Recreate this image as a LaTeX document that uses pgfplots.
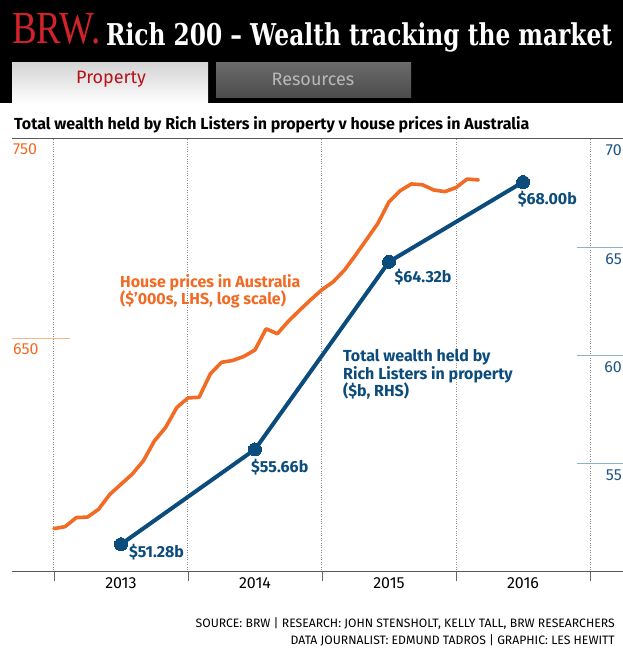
\documentclass[border=0pt]{standalone}
\usepackage{graphicx}
\usepackage{fontspec}
\setmainfont{Fira Sans}
\newfontfamily\titlefont{DejaVu Serif}
\newfontfamily\logofont{Liberation Serif}
\usepackage{pgfplots}
\pgfplotsset{compat=1.18}
\definecolor{hpOrange}{HTML}{F26B24}
\definecolor{hpOrangeLight}{HTML}{F8B58E}
\definecolor{wBlue}{HTML}{0B4C7C}
\definecolor{wBlueText}{HTML}{1D5586}
\definecolor{wBlueLight}{HTML}{8FAFC7}
\definecolor{brwRed}{HTML}{D2232A}
\definecolor{tabRed}{HTML}{B5121B}
\begin{document}
\begin{tikzpicture}[x=1pt,y=1pt]
\path[use as bounding box] (0,0) rectangle (623,-649);
\fill[white] (0,0) rectangle (623,-649);
\fill[black] (0,0) rectangle (623,-103);
% tabs
\shade[top color=black!17, bottom color=white] (12,-62) rectangle (208,-104);
\shade[top color=black!58, bottom color=black!70] (216,-62) rectangle (411,-97);
\node[font=\fontsize{18}{20}\selectfont, text=tabRed] at (111,-79) {Property};
\node[font=\fontsize{18}{20}\selectfont, text=black!28] at (313,-79) {Resources};
% title
\node[anchor=base west, inner sep=0, text=brwRed] at (12,-43) {\resizebox{88pt}{\height}{\logofont\fontsize{46}{46}\selectfont BRW.}};
\node[anchor=base west, inner sep=0, text=white] at (106,-45) {\resizebox{506pt}{\height}{\titlefont\bfseries\fontsize{30}{30}\selectfont Rich 200 – Wealth tracking the market}};
% subtitle
\node[anchor=west, inner sep=0, font=\bfseries\fontsize{16}{18}\selectfont] at (14,-124.5) {Total wealth held by Rich Listers in property v house prices in Australia};

\begin{axis}[
  at={(12pt,-572pt)}, anchor=south west, scale only axis,
  width=611pt, height=433.3pt,
  xmin=2012.687, xmax=2017.246,
  ymode=log, ymin=550, ymax=750,
  separate axis lines,
  x axis line style={draw=black!65, line width=0.9pt},
  y axis line style={draw=none},
  xtick={2013,2014,2015,2016,2017},
  xticklabels={},
  xmajorgrids,
  grid style={black!45, dotted, line width=1pt},
  tick align=outside,
  xtick pos=left,
  major tick length=9pt,
  xtick style={black!60, line width=0.7pt},
  extra x ticks={2013.5,2014.5,2015.5,2016.5},
  extra x tick labels={2013,2014,2015,2016},
  extra x tick style={major tick length=0pt, grid=none},
  xticklabel style={font=\fontsize{16}{16}\selectfont, inner sep=0pt, yshift=-5.5pt},
  ytick={650,750},
  yticklabels={650,750},
  ytick style={draw=none},
  ytick pos=left,
  yticklabel style={text=hpOrange, anchor=north west, inner sep=0pt, xshift=10pt, yshift=-5pt, font=\fontsize{16}{16}\selectfont},
  /pgf/number format/assume math mode=true,
  clip=false,
]
\draw[hpOrangeLight, line width=1pt] (axis cs:2012.687,650) -- (axis cs:2013.119,650);
\addplot[hpOrange, line width=3.6pt, line join=round, line cap=round] coordinates {
(2013.000,567.3) (2013.083,568.1) (2013.167,571.8) (2013.250,572.0) (2013.333,575.2)
(2013.417,581.4) (2013.500,585.6) (2013.583,589.8) (2013.667,595.5) (2013.750,604.1)
(2013.833,609.9) (2013.917,618.7) (2014.000,622.9) (2014.083,623.2) (2014.167,633.7)
(2014.250,639.0) (2014.333,639.8) (2014.417,641.7) (2014.500,644.7) (2014.583,654.5)
(2014.667,652.2) (2014.750,658.1) (2014.833,663.2) (2014.917,668.3) (2015.000,673.1)
(2015.083,676.8) (2015.167,682.5) (2015.250,689.9) (2015.333,697.7) (2015.417,705.8)
(2015.500,716.8) (2015.583,722.5) (2015.667,726.0) (2015.750,725.5) (2015.833,722.9)
(2015.917,722.0) (2016.000,724.1) (2016.083,728.6) (2016.167,728.1)
};
\end{axis}

\begin{axis}[
  at={(12pt,-572pt)}, anchor=south west, scale only axis,
  width=611pt, height=433.3pt,
  xmin=2012.687, xmax=2017.246,
  ymin=50, ymax=70,
  hide x axis,
  axis y line*=right,
  y axis line style={draw=none},
  ytick={55,60,65,70},
  ytick style={draw=none},
  yticklabel style={text=wBlueText, anchor=north east, inner sep=0pt, xshift=-1pt, yshift=-6pt, font=\fontsize{16}{16}\selectfont},
  /pgf/number format/assume math mode=true,
  clip=false,
]
\draw[wBlueLight, line width=1pt] (axis cs:2016.90,55) -- (axis cs:2017.246,55);
\draw[wBlueLight, line width=1pt] (axis cs:2016.90,60) -- (axis cs:2017.246,60);
\draw[wBlueLight, line width=1pt] (axis cs:2016.90,65) -- (axis cs:2017.246,65);
\addplot[wBlue, line width=4pt, mark=*, mark size=6.5pt, mark options={fill=wBlue, draw=wBlue, line width=0pt}] coordinates {
(2013.5,51.28) (2014.5,55.66) (2015.5,64.32) (2016.5,68.00)
};
\node[anchor=west, inner sep=0, text=wBlue, font=\bfseries\fontsize{16}{16}\selectfont] at (axis cs:2013.560,50.91) {\$51.28b};
\node[anchor=west, inner sep=0, text=wBlue, font=\bfseries\fontsize{16}{16}\selectfont] at (axis cs:2014.47,54.83) {\$55.66b};
\node[anchor=west, inner sep=0, text=wBlue, font=\bfseries\fontsize{16}{16}\selectfont] at (axis cs:2015.54,63.63) {\$64.32b};
\node[anchor=west, inner sep=0, text=wBlue, font=\bfseries\fontsize{16}{16}\selectfont] at (axis cs:2016.46,67.20) {\$68.00b};
\end{axis}

% series annotations
\node[anchor=north west, inner sep=0, align=left, text=hpOrange, font=\bfseries\fontsize{16}{17.6}\selectfont] at (120,-274) {House prices in Australia\\(\$’000s, LHS, log scale)};
\node[anchor=north west, inner sep=0, align=left, text=wBlue, font=\bfseries\fontsize{16}{17.8}\selectfont] at (343,-349) {Total wealth held by\\Rich Listers in property\\(\$b, RHS)};
% footer
\node[anchor=east, inner sep=0, font=\fontsize{12.2}{13}\selectfont] at (615,-624) {SOURCE: BRW | RESEARCH: JOHN STENSHOLT, KELLY TALL, BRW RESEARCHERS};
\node[anchor=east, inner sep=0, font=\fontsize{12.2}{13}\selectfont] at (615,-640) {DATA JOURNALIST: EDMUND TADROS | GRAPHIC: LES HEWITT};
\end{tikzpicture}
\end{document}
